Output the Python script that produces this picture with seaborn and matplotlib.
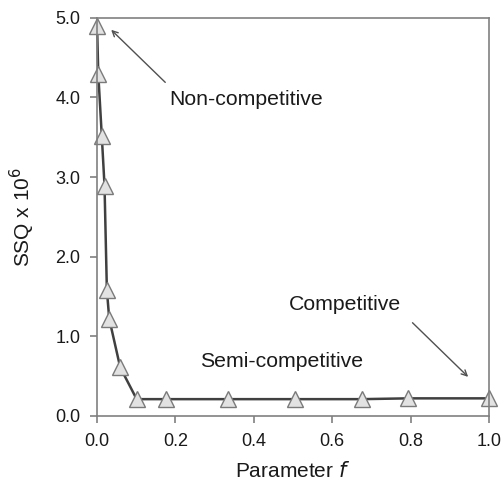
import numpy as np
import pandas as pd
import matplotlib
matplotlib.use("Agg")
import matplotlib.pyplot as plt
import seaborn as sns

sns.set_style("ticks")
plt.rcParams["font.family"] = ["Liberation Sans", "DejaVu Sans"]

# data
param_f = [0.0, 0.003, 0.012, 0.019, 0.025, 0.031, 0.059, 0.101, 0.175, 0.333, 0.504, 0.676, 0.794, 1.0]
ssq = [4.90, 4.30, 3.52, 2.89, 1.58, 1.22, 0.61, 0.21, 0.21, 0.21, 0.21, 0.21, 0.22, 0.22]

df = pd.DataFrame({"f": param_f, "ssq": ssq})

GRAY = "#808080"
TXT = "#1a1a1a"

fig = plt.figure(figsize=(5.03, 4.83), dpi=100)
ax = fig.add_axes([0.193, 0.139, 0.779, 0.824])

sns.lineplot(data=df, x="f", y="ssq", ax=ax, color="#404040", linewidth=1.8,
             marker="^", markersize=11.5, markerfacecolor="#e2e2e2",
             markeredgecolor="#7a7a7a", markeredgewidth=1.0, clip_on=False)

ax.set_xlim(0, 1.0)
ax.set_ylim(0, 5.0)
ax.set_xticks(np.arange(0, 1.01, 0.2))
ax.set_yticks(np.arange(0, 5.01, 1.0))
ax.set_xticklabels([f"{v:.1f}" for v in np.arange(0, 1.01, 0.2)])
ax.set_yticklabels([f"{v:.1f}" for v in np.arange(0, 5.01, 1.0)])

for sp in ax.spines.values():
    sp.set_visible(True)
    sp.set_color(GRAY)
    sp.set_linewidth(1.2)
ax.tick_params(colors=GRAY, labelcolor=TXT, labelsize=13, length=5, width=1.2, pad=7)

ax.set_xlabel("Parameter $\\it{f}$", fontsize=15, color=TXT, labelpad=8)
ax.set_ylabel("SSQ x 10$^{6}$", fontsize=15, color=TXT, labelpad=13)

arrow = dict(arrowstyle="->", color="#505050", lw=1.0, shrinkA=0, shrinkB=0)
ax.text(0.38, 3.98, "Non-competitive", fontsize=15.3, ha="center", va="center", color=TXT)
ax.annotate("", xy=(0.036, 4.85), xytext=(0.174, 4.19), arrowprops=arrow)
ax.text(0.47, 0.68, "Semi-competitive", fontsize=15.3, ha="center", va="center", color=TXT)
ax.text(0.632, 1.40, "Competitive", fontsize=15.3, ha="center", va="center", color=TXT)
ax.annotate("", xy=(0.947, 0.49), xytext=(0.805, 1.17), arrowprops=arrow)

fig.savefig("out.png", dpi=100)
